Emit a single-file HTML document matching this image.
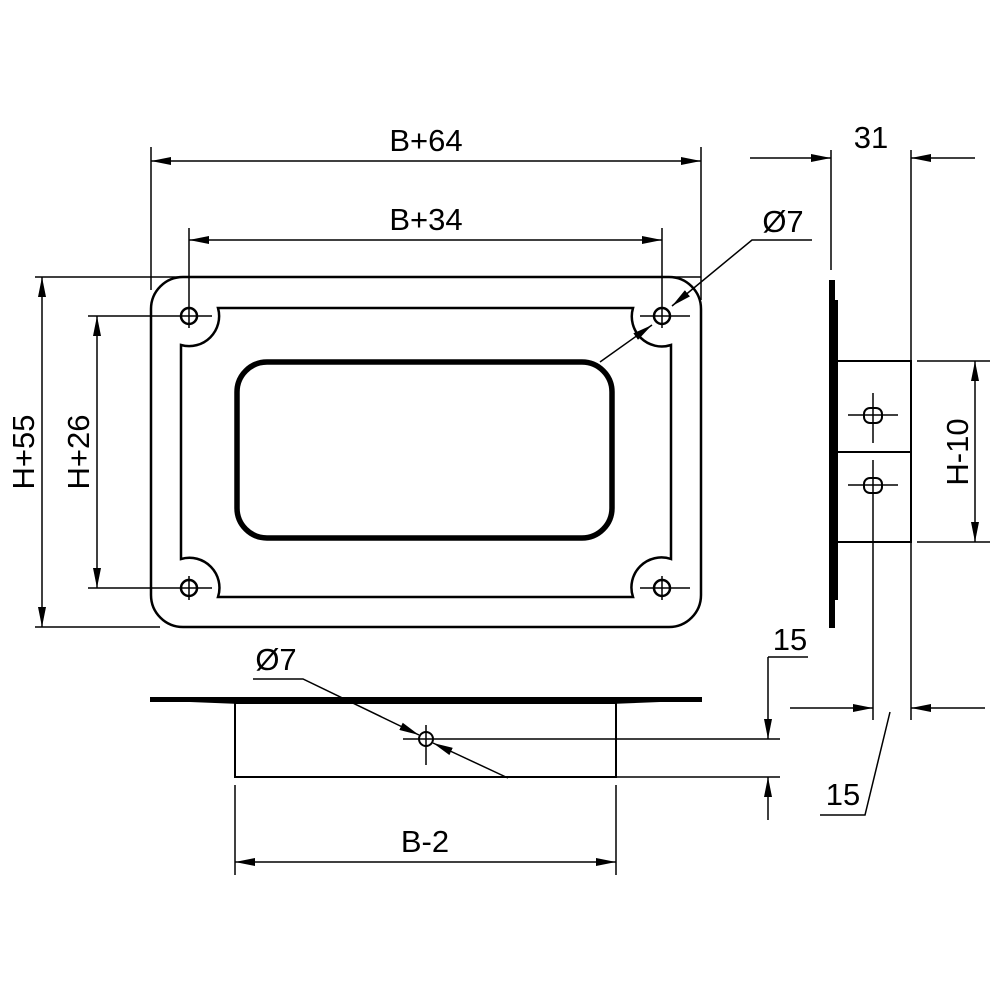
<!DOCTYPE html>
<html><head><style>body{margin:0;background:#fff}svg{display:block}text{font-family:"Liberation Sans",sans-serif;font-size:31px;fill:#000}</style></head><body>
<svg width="1000" height="1000" viewBox="0 0 1000 1000" xmlns="http://www.w3.org/2000/svg">
<defs>
<marker id="a" viewBox="0 0 20 8" refX="20" refY="4" markerWidth="20" markerHeight="8" markerUnits="userSpaceOnUse" orient="auto-start-reverse"><path d="M0,0 L20,4 L0,8 Z" fill="#000"/></marker>
</defs>
<g stroke="#000" fill="none" stroke-width="1.5">
<!-- front view -->
<rect x="151" y="277" width="550" height="350" rx="32" stroke-width="2.5"/>
<path d="M218,308 H633 A30,30 0 0 0 671,345 V559 A30,30 0 0 0 633,597 H218 A30,30 0 0 0 181,559 V345 A30,30 0 0 0 218,308 Z" stroke-width="2.5"/>
<rect x="237" y="362" width="375" height="176" rx="30" stroke-width="5.5"/>
<circle cx="189" cy="316" r="8" stroke-width="2.5"/><circle cx="662" cy="316" r="8" stroke-width="2.5"/>
<circle cx="189" cy="588" r="8" stroke-width="2.5"/><circle cx="662" cy="588" r="8" stroke-width="2.5"/>
<!-- extension lines -->
<line x1="151" y1="147" x2="151" y2="290"/><line x1="701" y1="147" x2="701" y2="300"/>
<line x1="189" y1="228" x2="189" y2="328"/><line x1="662" y1="228" x2="662" y2="328"/>
<line x1="189" y1="576" x2="189" y2="600"/><line x1="662" y1="576" x2="662" y2="600"/>
<line x1="35" y1="277" x2="701" y2="277"/><line x1="35" y1="627" x2="160" y2="627"/>
<line x1="88" y1="316" x2="212" y2="316"/><line x1="640" y1="316" x2="690" y2="316"/>
<line x1="88" y1="588" x2="212" y2="588"/><line x1="640" y1="588" x2="690" y2="588"/>
<!-- dims -->
<line x1="151" y1="161" x2="701" y2="161" marker-start="url(#a)" marker-end="url(#a)"/>
<line x1="189" y1="240" x2="662" y2="240" marker-start="url(#a)" marker-end="url(#a)"/>
<line x1="42" y1="277" x2="42" y2="627" marker-start="url(#a)" marker-end="url(#a)"/>
<line x1="97" y1="316" x2="97" y2="588" marker-start="url(#a)" marker-end="url(#a)"/>
<!-- Ø7 leader top -->
<polyline points="812,240 752,240 672,306" marker-end="url(#a)"/>
<line x1="600" y1="362" x2="652" y2="325" marker-end="url(#a)"/>
<!-- side view -->
<line x1="831" y1="150" x2="831" y2="270"/>
<line x1="911" y1="150" x2="911" y2="720"/>
<rect x="829" y="280" width="6" height="348" fill="#000" stroke="none"/>
<rect x="835" y="300" width="3" height="300" fill="#000" stroke="none"/>
<rect x="837" y="361" width="74" height="181" stroke-width="2"/>
<line x1="837" y1="452" x2="911" y2="452" stroke-width="2"/>
<rect x="864" y="408" width="18" height="15" rx="6" stroke-width="2"/>
<rect x="864" y="478" width="18" height="15" rx="6" stroke-width="2"/>
<line x1="848" y1="415" x2="898" y2="415"/><line x1="873" y1="393" x2="873" y2="443"/>
<line x1="848" y1="485" x2="898" y2="485"/><line x1="873" y1="460" x2="873" y2="720"/>
<line x1="750" y1="158" x2="831" y2="158" marker-end="url(#a)"/>
<line x1="975" y1="158" x2="911" y2="158" marker-end="url(#a)"/>
<line x1="917" y1="361" x2="990" y2="361"/><line x1="917" y1="542" x2="990" y2="542"/>
<line x1="975" y1="361" x2="975" y2="542" marker-start="url(#a)" marker-end="url(#a)"/>
<line x1="790" y1="708" x2="873" y2="708" marker-end="url(#a)"/>
<line x1="985" y1="708" x2="911" y2="708" marker-end="url(#a)"/>
<polyline points="890,712 865,815 820,815"/>
<!-- bottom view -->
<path d="M150,697 H702 V702 H660 L610,704 H240 L190,702 H150 Z" fill="#000" stroke="none"/>
<rect x="235" y="703" width="381" height="74" stroke-width="2"/>
<circle cx="426" cy="739" r="7" stroke-width="2"/>
<line x1="426" y1="725" x2="426" y2="765"/><line x1="403" y1="739" x2="780" y2="739"/>
<line x1="616" y1="777" x2="780" y2="777"/>
<line x1="768" y1="657" x2="808" y2="657"/>
<line x1="768" y1="657" x2="768" y2="739" marker-end="url(#a)"/>
<line x1="768" y1="820" x2="768" y2="777" marker-end="url(#a)"/>
<polyline points="253,679 303,679 419,735" marker-end="url(#a)"/>
<line x1="508" y1="778" x2="433" y2="743" marker-end="url(#a)"/>
<line x1="235" y1="785" x2="235" y2="875"/><line x1="616" y1="785" x2="616" y2="875"/>
<line x1="235" y1="862" x2="616" y2="862" marker-start="url(#a)" marker-end="url(#a)"/>
</g>
<text x="426" y="151" text-anchor="middle">B+64</text>
<text x="426" y="230" text-anchor="middle">B+34</text>
<text x="783" y="232" text-anchor="middle">Ø7</text>
<text x="871" y="148" text-anchor="middle">31</text>
<text x="790" y="650" text-anchor="middle">15</text>
<text x="843" y="805" text-anchor="middle">15</text>
<text x="276" y="670" text-anchor="middle">Ø7</text>
<text x="425" y="852" text-anchor="middle">B-2</text>
<text transform="translate(34,452) rotate(-90)" text-anchor="middle">H+55</text>
<text transform="translate(89,452) rotate(-90)" text-anchor="middle">H+26</text>
<text transform="translate(968,452) rotate(-90)" text-anchor="middle">H-10</text>
</svg>
</body></html>
